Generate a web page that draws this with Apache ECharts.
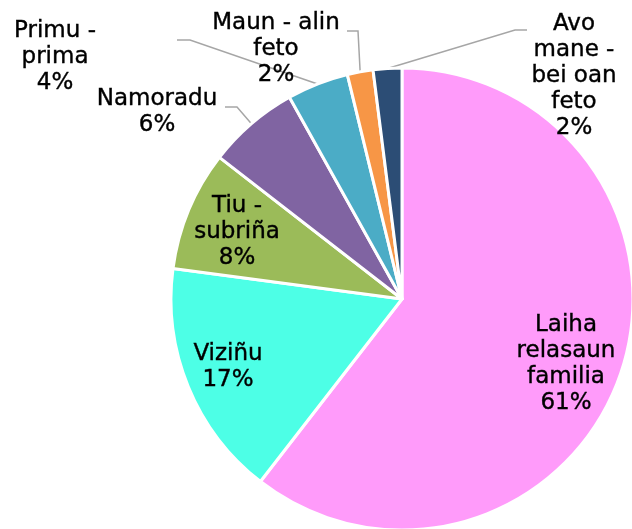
<!DOCTYPE html>
<html>
<head>
<meta charset="utf-8">
<script src="https://cdn.jsdelivr.net/npm/echarts@6/dist/echarts.min.js"></script>
<style>
  html, body { margin: 0; padding: 0; background: #fff; }
  #chart { width: 632px; height: 529px; }
</style>
</head>
<body>
<div id="chart"></div>
<script>
// categories and values (percent shares)
const categories = [
  'Laiha\nrelasaun\nfamilia',
  'Viziñu',
  'Tiu -\nsubriña',
  'Namoradu',
  'Primu -\nprima',
  'Maun - alin\nfeto',
  'Avo\nmane -\nbei oan\nfeto'
];
const shares = [60.5, 16.6, 8.4, 6.4, 4.3, 1.8, 2.0];
const sliceColors = ['#ff9bfa', '#4dffe6', '#9bbb59', '#8064a2', '#4bacc6', '#f79646', '#2c4d75'];

// label layout: centre of each label block, plus elbow of its leader line
const labelInside = [true, true, true, false, false, false, false];
const labelCentre = [
  [566, 364], [228, 367], [237, 232], [157, 112], [55, 57], [276, 49], [574, 76]
];
const lineElbow = [null, null, null,
  [[237, 107], [225, 107]],
  [[190, 40], [177, 40]],
  [[358, 31], [347, 31]],
  [[515, 30], [527, 30]]
];

const chart = echarts.init(document.getElementById('chart'));

const data = categories.map((name, i) => ({
  name: name,
  value: shares[i],
  itemStyle: { color: sliceColors[i] },
  label: { position: labelInside[i] ? 'inside' : 'outside' },
  labelLine: { show: !labelInside[i] }
}));

chart.setOption({
  animation: false,
  series: [
    {
      type: 'pie',
      center: [402, 299],
      radius: [0, 231],
      startAngle: 90,
      clockwise: true,
      percentPrecision: 0,
      avoidLabelOverlap: false,
      data: data,
      itemStyle: {
        borderColor: '#ffffff',
        borderWidth: 3
      },
      label: {
        formatter: '{b}\n{d}%',
        color: '#000000',
        fontSize: 23,
        lineHeight: 26,
        fontFamily: 'DejaVu Sans, Arial, Helvetica, sans-serif',
        textBorderColor: '#000000',
        textBorderWidth: 0.4,
        align: 'center'
      },
      labelLine: {
        lineStyle: { color: '#a6a6a6', width: 1.5 }
      },
      labelLayout: function (params) {
        const i = params.dataIndex;
        const pos = labelCentre[i];
        const out = {
          x: pos[0],
          y: pos[1],
          align: 'center',
          verticalAlign: 'middle'
        };
        if (!labelInside[i] && params.labelLinePoints) {
          out.labelLinePoints = [params.labelLinePoints[0]].concat(lineElbow[i]);
        }
        return out;
      }
    }
  ]
});
</script>
</body>
</html>
